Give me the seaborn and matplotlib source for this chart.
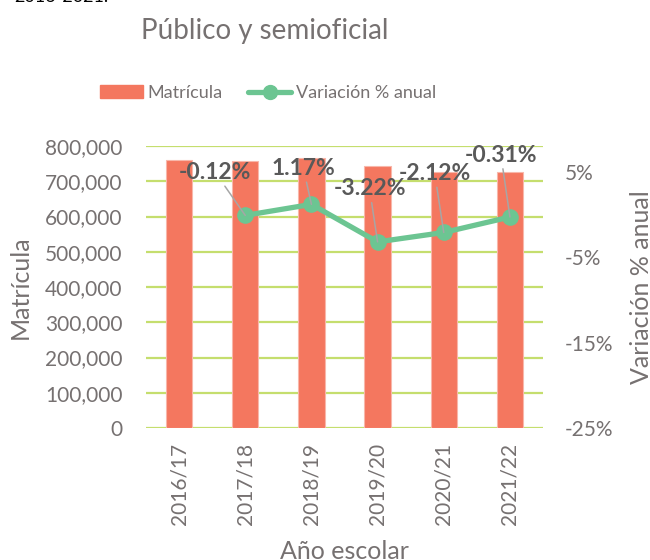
import numpy as np
import pandas as pd
import matplotlib
matplotlib.use("Agg")
import matplotlib.pyplot as plt
import seaborn as sns
from matplotlib.patches import Patch
from matplotlib.lines import Line2D
from matplotlib.ticker import FuncFormatter, FixedLocator

# ---- data ----
anios = ["2016/17", "2017/18", "2018/19", "2019/20", "2020/21", "2021/22"]
matricula = [760000, 758000, 767000, 743000, 727000, 725000]
variacion = [np.nan, -0.12, 1.17, -3.22, -2.12, -0.31]
titulo = "Público y semioficial"
izq_ticks = [0, 100000, 200000, 300000, 400000, 500000, 600000, 700000, 800000]
der_ticks = [-25, -15, -5, 5]

sns.set_theme(style="white")
plt.rcParams["font.family"] = ["Lato", "DejaVu Sans"]

TXT = "#767171"
BAR = "#F4775F"
LINE = "#6CC592"
GRID = "#C5DE6E"
LBL = "#595959"

fig = plt.figure(figsize=(6.5, 5.6), dpi=100)
ax = fig.add_axes([146 / 650, 1 - 428 / 560, 397 / 650, 282 / 560])

df = pd.DataFrame({"anio": anios, "matricula": matricula, "variacion": variacion})
df["pos"] = np.arange(len(df))

sns.barplot(data=df, x="anio", y="matricula", color=BAR, width=0.4,
            edgecolor="#F8B7AA", linewidth=0.8, saturation=1, ax=ax, zorder=2)
ax.set_ylim(0, 800000)
ax.yaxis.set_major_locator(FixedLocator(izq_ticks))
ax.yaxis.set_major_formatter(FuncFormatter(lambda v, p: f"{v:,.0f}"))
ax.set_axisbelow(True)
ax.grid(axis="y", color=GRID, linewidth=1.6)
ax.grid(axis="x", visible=False)
for s in ax.spines.values():
    s.set_visible(False)
ax.tick_params(axis="y", length=0, pad=17, labelsize=15, labelcolor=TXT)
ax.tick_params(axis="x", length=0, pad=11, labelsize=15, labelcolor=TXT, rotation=90)
ax.set_xlim(-0.5, len(anios) - 0.5)
ax.set_xlabel("Año escolar", fontsize=18, color=TXT)
ax.set_ylabel("Matrícula", fontsize=18, color=TXT)
ax.yaxis.set_label_coords(-0.287, 0.5)
ax.xaxis.set_label_coords(0.5, -0.398)

ax2 = ax.twinx()
sns.lineplot(data=df, x="pos", y="variacion", color=LINE, linewidth=3.8,
             marker="o", markersize=12, markeredgewidth=0, ax=ax2, zorder=3)
ax2.set_ylim(-25, 8)
ax2.yaxis.set_major_locator(FixedLocator(der_ticks))
ax2.yaxis.set_major_formatter(FuncFormatter(lambda v, p: f"{v:.0f}%"))
ax2.grid(False)
for s in ax2.spines.values():
    s.set_visible(False)
ax2.tick_params(axis="y", length=0, pad=16, labelsize=15, labelcolor=TXT)
ax2.set_xlabel("")
ax2.set_ylabel("Variación % anual", fontsize=18, color=TXT)
ax2.yaxis.set_label_coords(1.219, 0.5)
ax2.set_xlim(-0.5, len(anios) - 0.5)

# data labels with leader lines (offsets in pixels)
offsets = [None, (-30, 43), (-8, 36), (-8, 53), (-9, 59), (-9, 62)]
for i, v in enumerate(variacion):
    if np.isnan(v):
        continue
    ax2.annotate(f"{v:.2f}%", xy=(i, v), xytext=offsets[i], textcoords="offset pixels",
                 ha="center", va="center", fontsize=16.5, fontweight="bold", color=LBL,
                 arrowprops=dict(arrowstyle="-", color="#A6A6A6", lw=1.1,
                                 shrinkA=0, shrinkB=0), zorder=4)

# title & cut-off header
fig.text(265 / 650, 1 - 31 / 560, titulo, ha="center", va="center", fontsize=20, color=TXT)
fig.text(14 / 650, 1 - 2 / 560, "2016-2021.", ha="left", va="baseline", fontsize=13, color="black")

handles = [Patch(facecolor=BAR, edgecolor=BAR),
           Line2D([0], [0], color=LINE, lw=3.8, marker="o", markersize=10)]
fig.legend(handles, ["Matrícula", "Variación % anual"], loc="center",
           bbox_to_anchor=(268 / 650, 1 - 93 / 560), ncol=2, frameon=False,
           fontsize=13, labelcolor=TXT, handlelength=2.4, handletextpad=0.25,
           columnspacing=1.4)

fig.savefig("out.png", dpi=100)
